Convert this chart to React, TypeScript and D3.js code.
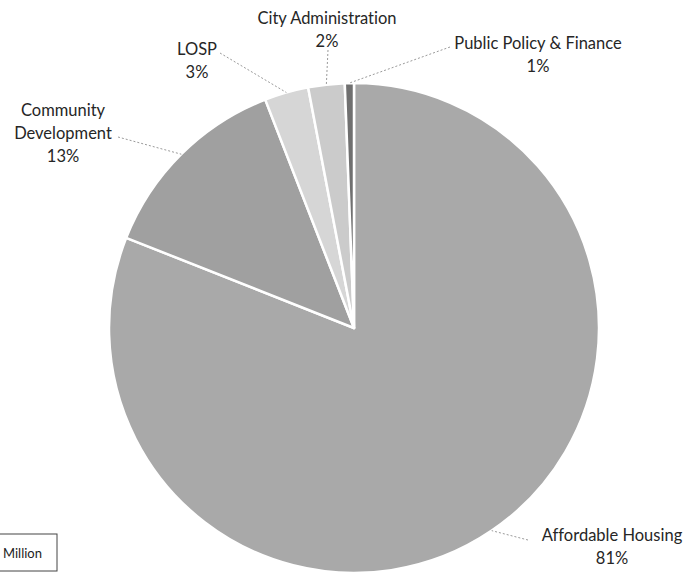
import React from "react";
import * as d3 from "d3";

const categories = [
  "Affordable Housing",
  "Community Development",
  "LOSP",
  "City Administration",
  "Public Policy & Finance",
];
const values = [81.0, 13.1, 2.9, 2.4, 0.6];
const colors = ["#a9a9a9", "#a0a0a0", "#d6d6d6", "#cbcbcb", "#707070"];
// label text lines (name split) and label anchor positions
const labelLines = [
  ["Affordable Housing"],
  ["Community", "Development"],
  ["LOSP"],
  ["City Administration"],
  ["Public Policy & Finance"],
];
const labelPos: [number, number][] = [
  [612, 535],
  [63, 110],
  [197, 49],
  [327, 18],
  [538, 43],
];
const leaderStart: [number, number][] = [
  [528, 540],
  [118, 137],
  [220, 53],
  [328, 50],
  [450, 47],
];

const W = 690;
const H = 576;
const CX = 354;
const CY = 328;
const R = 245;
const LINE_H = 23;

export default function App() {
  const total = d3.sum(values);
  const pie = d3
    .pie<number>()
    .sort(null)
    .startAngle(0)
    .endAngle(2 * Math.PI)
    .value((d) => d);
  const arcs = pie(values);
  const arc = d3.arc<d3.PieArcDatum<number>>().innerRadius(0).outerRadius(R);

  return (
    <svg
      width={W}
      height={H}
      style={{
        position: "absolute",
        left: 0,
        top: 0,
        background: "#fff",
        fontVariantLigatures: "none",
      }}
      fontFamily="Lato, 'Open Sans', sans-serif"
    >
      <g transform={`translate(${CX},${CY})`}>
        {arcs.map((a, i) => (
          <path
            key={categories[i]}
            d={arc(a) || ""}
            fill={colors[i]}
            stroke="#fff"
            strokeWidth={2.5}
            strokeLinejoin="round"
          />
        ))}
      </g>
      {arcs.map((a, i) => {
        const mid = (a.startAngle + a.endAngle) / 2;
        const ex = CX + R * Math.sin(mid);
        const ey = CY - R * Math.cos(mid);
        const [sx, sy] = leaderStart[i];
        return (
          <line
            key={"l" + i}
            x1={sx}
            y1={sy}
            x2={ex}
            y2={ey}
            stroke="#9a9a9a"
            strokeWidth={1}
            strokeDasharray="2,2"
          />
        );
      })}
      {arcs.map((a, i) => {
        const [lx, ly] = labelPos[i];
        const lines = [
          ...labelLines[i],
          `${Math.round((values[i] / total) * 100)}%`,
        ];
        return (
          <text
            key={"t" + i}
            textAnchor="middle"
            fontSize={16.5}
            fill="#262626"
            dominantBaseline="central"
          >
            {lines.map((ln, j) => (
              <tspan key={j} x={lx} y={ly + j * LINE_H}>
                {ln}
              </tspan>
            ))}
          </text>
        );
      })}
      <rect
        x={-10}
        y={534}
        width={67}
        height={37}
        fill="#fff"
        stroke="#444"
        strokeWidth={1}
      />
      <text
        x={3}
        y={553}
        fontSize={13}
        fill="#222"
        dominantBaseline="central"
      >
        Million
      </text>
    </svg>
  );
}
